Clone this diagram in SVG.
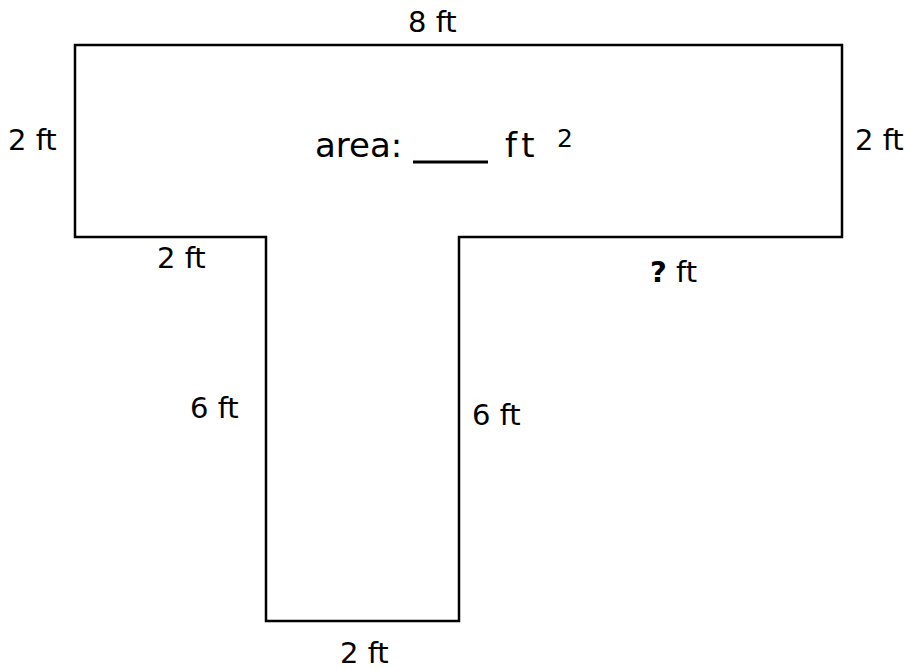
<svg xmlns="http://www.w3.org/2000/svg" width="911" height="669" viewBox="0 0 911 669">
<style>
.lbl{font-family:"DejaVu Sans",sans-serif;font-size:29px;fill:#000}
.area{font-family:"DejaVu Sans",sans-serif;font-size:34px;fill:#000}
.sup{font-family:"DejaVu Sans",sans-serif;font-size:25px;fill:#000}
.shape{fill:#fff;stroke:#000;stroke-width:2.5}
</style>
<rect width="911" height="669" fill="#fff"/>
<g id="tshape">
<polygon class="shape" points="75,45 842,45 842,237 459,237 459,621 266,621 266,237 75,237"/>
</g>
<g id="connectors"></g>
<g id="labels">
<text class="lbl" x="408" y="32">8 ft</text>
<text class="lbl" x="8" y="150">2 ft</text>
<text class="lbl" x="855" y="150">2 ft</text>
<text class="lbl" x="157" y="268">2 ft</text>
<text class="lbl" x="650" y="282"><tspan font-weight="bold">?</tspan> ft</text>
<text class="lbl" x="190" y="418">6 ft</text>
<text class="lbl" x="472" y="425">6 ft</text>
<text class="lbl" x="340" y="663">2 ft</text>
</g>
<g id="area">
<text class="area" x="315" y="157">area:</text>
<line x1="413" y1="162" x2="488" y2="162" stroke="#000" stroke-width="3"/>
<text class="area" x="505" y="157" letter-spacing="5">ft</text>
<text class="sup" x="557" y="147">2</text>
</g>
</svg>
